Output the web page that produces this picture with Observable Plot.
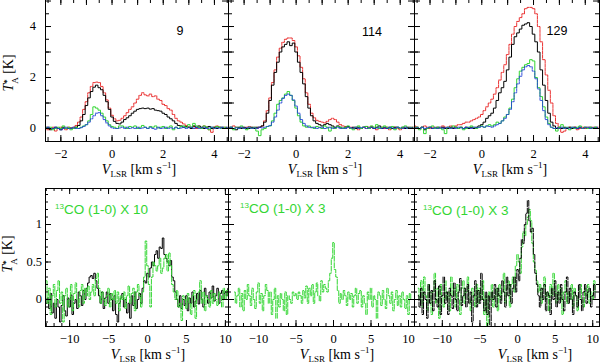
<!DOCTYPE html>
<html><head><meta charset="utf-8">
<script src="https://cdn.jsdelivr.net/npm/d3@7"></script>
<script src="https://cdn.jsdelivr.net/npm/@observablehq/plot@0.6"></script>
<style>
body{margin:0;background:#fff;}
#chart{position:relative;width:600px;height:363px;overflow:hidden;background:#fff;}
#chart svg{position:absolute;overflow:visible;max-width:none;}
.lbl{position:absolute;white-space:nowrap;line-height:1;transform:translate(-50%,-50%);}
.ytk{position:absolute;white-space:nowrap;line-height:1;transform:translate(-100%,-50%);font-family:"Liberation Serif","DejaVu Serif","Times New Roman",serif;font-size:12.5px;color:#000;}
.ser{font-family:"Liberation Serif","DejaVu Serif","Times New Roman",serif;font-size:14px;color:#000;}
.ser sub{font-size:9px;vertical-align:-3px;}
.ser sup{font-size:9px;vertical-align:6px;}
.num{font-family:"Liberation Sans",Arial,sans-serif;font-size:12.5px;color:#000;}
.grn{position:absolute;white-space:nowrap;line-height:1;font-family:"Liberation Sans",Arial,sans-serif;font-size:13.5px;color:#33d633;transform:translateY(-50%);}
.grn sup{font-size:8px;vertical-align:5px;}
</style></head><body><div id="chart"></div>
<script>
// ---------- data ----------
const velTopStart = -2.6, velTopStep = 0.1;   // km/s, top-row channels
const velBotStart = -13.2, velBotStep = 0.2;  // km/s, bottom-row channels
const topXTicks = [-2, 0, 2, 4];
const topYTicks = [0, 2, 4];
const botXTicks = [-10, -5, 0, 5, 10];
const botYTicks = [0, 0.5, 1];
const topPanelNames = ["9", "114", "129"];
const botLineName = "CO (1-0)";
const botIsotope = "13";
const botFactors = ["X 10", "X 3", "X 3"];

const p9Red = [0.05,-0.05,0.0,0.05,-0.1,0.0,0.05,0.0,-0.05,0.05,
 0.0,0.05,0.12,0.25,0.45,0.75,1.05,1.4,1.65,1.8,
 1.82,1.8,1.65,1.4,1.12,0.8,0.52,0.38,0.3,0.32,
 0.4,0.5,0.62,0.75,0.85,1.0,1.15,1.3,1.4,1.32,
 1.28,1.35,1.25,1.28,1.15,1.1,0.95,0.9,0.78,0.72,
 0.55,0.4,0.3,0.25,0.18,0.12,0.06,0.05,0.08,0.0,
 0.05,0.0,0.1,0.05,-0.05,-0.15,0.05,0.1,0.05,0.0,
 0.05,0.0];
const p9Black = [0.0,0.05,-0.05,0.0,0.05,0.0,-0.05,0.05,0.0,0.0,
 0.02,0.0,0.05,0.12,0.3,0.55,0.9,1.2,1.45,1.62,
 1.7,1.6,1.52,1.3,1.05,0.75,0.45,0.28,0.2,0.18,
 0.25,0.35,0.42,0.5,0.6,0.68,0.75,0.78,0.8,0.78,
 0.8,0.76,0.78,0.72,0.7,0.68,0.6,0.55,0.45,0.38,
 0.3,0.2,0.12,0.1,0.05,0.08,0.05,0.0,0.1,0.05,
 0.1,0.05,0.0,0.05,0.08,0.0,0.05,0.0,0.05,0.05,
 0.0,0.05];
const p9Green = [0.05,0.0,0.05,-0.05,0.0,0.05,0.0,0.1,0.0,0.05,
 -0.05,0.0,0.05,0.0,0.05,0.1,0.15,0.3,0.55,0.85,
 0.8,0.72,0.6,0.45,0.3,0.15,0.08,0.05,0.0,0.1,
 0.1,0.05,0.0,0.08,0.05,0.1,0.0,0.05,0.12,0.05,
 0.0,0.08,0.05,0.1,0.02,0.05,0.08,0.0,0.05,0.1,
 -0.05,0.05,0.0,0.08,0.1,0.05,0.15,0.05,0.2,0.1,
 0.05,0.0,0.1,0.05,-0.05,0.05,0.0,0.08,0.05,0.0,
 0.05,0.0];
const p9Blue = [0.0,0.05,0.0,0.0,0.05,0.0,-0.05,0.0,0.05,0.0,
 0.0,0.05,0.0,0.0,0.03,0.08,0.15,0.25,0.38,0.5,
 0.6,0.62,0.5,0.35,0.22,0.1,0.03,0.0,0.0,0.02,
 0.05,0.0,0.05,0.0,0.03,0.0,0.05,0.0,0.02,0.05,
 0.0,0.05,0.0,-0.03,0.05,0.0,0.02,0.05,0.0,0.03,
 0.0,0.05,0.0,0.02,0.05,0.0,0.03,0.05,0.0,0.05,
 0.0,0.03,0.05,0.0,0.02,0.05,0.0,0.03,0.0,0.05,
 0.0,0.03];

const p114Red = [0.05,0.0,0.1,0.05,0.0,0.05,0.0,0.05,0.08,0.0,
 0.05,0.0,0.05,0.1,0.3,0.7,1.2,1.8,2.3,2.8,
 3.15,3.38,3.5,3.55,3.55,3.45,3.2,2.85,2.4,1.95,
 1.4,0.95,0.6,0.42,0.32,0.28,0.25,0.22,0.28,0.35,
 0.4,0.35,0.25,0.15,0.1,0.08,0.05,0.05,0.0,0.05,
 -0.05,0.0,0.05,0.0,0.05,0.08,0.0,-0.05,0.0,0.05,
 0.0,0.05,-0.05,0.0,0.05,0.0,-0.05,0.0,0.05,0.0,
 0.05,0.0];
const p114Black = [0.0,0.05,0.0,-0.05,0.05,0.0,0.05,0.0,0.0,0.05,
 0.0,0.05,0.05,0.1,0.25,0.6,1.1,1.7,2.2,2.6,
 3.0,3.2,3.3,3.4,3.25,3.35,3.0,2.6,2.2,1.75,
 1.25,0.8,0.5,0.3,0.2,0.15,0.1,0.15,0.2,0.15,
 0.1,0.05,0.1,0.05,0.0,0.05,0.08,0.0,0.05,0.0,
 0.05,0.0,0.05,0.08,0.0,0.05,0.0,0.05,0.1,0.0,
 0.05,0.0,0.05,0.0,0.05,0.05,0.0,0.05,0.0,0.05,
 0.0,0.05];
const p114Green = [0.0,0.05,-0.05,0.05,0.0,0.1,0.0,-0.05,0.05,0.0,
 0.05,-0.1,-0.28,-0.05,0.0,0.08,0.1,0.3,0.6,0.95,
 1.1,1.2,1.35,1.45,1.3,1.1,0.8,0.5,0.25,0.1,
 0.05,0.1,0.05,0.0,0.08,0.05,0.0,0.1,0.05,-0.1,
 0.05,0.0,0.08,0.05,0.0,0.05,0.1,0.0,-0.05,0.05,
 0.1,0.0,0.05,0.08,0.0,0.1,0.05,0.15,0.0,0.05,
 0.1,0.05,0.0,0.08,-0.05,0.05,0.0,0.05,0.1,0.0,
 0.05,0.0];
const p114Blue = [0.0,0.05,0.0,0.03,0.0,0.05,0.0,0.03,0.05,0.0,
 0.03,0.0,0.05,0.02,0.05,0.08,0.12,0.25,0.45,0.72,
 1.0,1.18,1.3,1.35,1.3,1.12,0.88,0.6,0.35,0.2,
 0.1,0.05,0.03,0.05,0.0,0.03,0.05,0.0,0.02,0.05,
 0.0,0.03,0.05,0.0,0.02,0.0,0.05,0.03,0.0,0.05,
 0.0,0.03,0.05,0.0,0.03,0.05,0.0,0.02,0.05,0.0,
 0.03,0.0,0.05,0.02,0.0,0.05,0.03,0.0,0.05,0.0,
 0.03,0.0];

const p129Red = [0.1,0.05,0.0,0.05,0.1,0.05,0.0,0.05,0.05,0.0,
 0.05,0.1,0.05,0.05,0.1,0.05,0.1,0.15,0.15,0.2,
 0.25,0.25,0.3,0.35,0.4,0.45,0.55,0.7,0.85,1.0,
 1.15,1.35,1.6,1.9,2.2,2.5,2.9,3.3,3.7,4.0,
 4.2,4.35,4.5,4.7,4.75,4.75,4.7,4.5,4.0,3.4,
 2.7,2.1,1.5,1.0,0.5,0.2,0.0,-0.15,-0.1,0.0,
 0.05,0.0,0.05,-0.05,0.0,0.05,0.0,0.05,0.0,0.05,
 0.0,0.05];
const p129Black = [0.0,0.05,0.0,0.05,-0.05,0.0,0.05,0.0,0.0,0.05,
 0.0,0.05,0.0,0.0,0.05,0.0,0.05,0.0,0.05,0.0,
 0.05,0.0,0.05,0.0,0.05,0.1,0.15,0.25,0.4,0.5,
 0.6,0.8,1.1,1.4,1.6,1.85,2.3,2.8,3.3,3.6,
 3.75,3.9,4.05,4.1,4.15,4.0,3.7,3.4,3.0,2.3,
 1.7,1.1,0.6,0.25,0.1,0.0,0.05,0.0,0.05,0.0,
 0.05,0.0,0.05,0.0,0.05,0.0,0.05,0.0,0.05,0.0,
 0.05,0.0];
const p129Green = [0.0,0.05,-0.05,0.05,-0.2,0.0,0.05,0.1,0.0,0.05,
 0.0,-0.05,-0.2,0.05,0.0,0.1,0.05,0.0,0.05,-0.05,
 0.0,0.05,0.1,0.05,0.0,0.05,0.1,0.05,0.1,0.15,
 0.1,0.15,0.25,0.2,0.3,0.45,0.55,0.8,1.15,1.6,
 1.95,2.25,2.4,2.5,2.55,2.7,2.65,2.0,1.6,1.25,
 0.85,0.45,0.2,0.05,0.0,-0.1,0.05,0.15,0.0,0.05,
 -0.05,0.05,0.0,0.05,0.1,0.0,0.05,0.0,0.05,0.0,
 0.05,0.0];
const p129Blue = [0.0,0.03,0.0,0.05,0.0,0.03,0.05,0.0,0.03,0.0,
 0.05,0.0,0.03,0.05,0.0,0.03,0.0,0.05,0.03,0.0,
 0.05,0.03,0.0,0.05,0.03,0.05,0.08,0.05,0.1,0.08,
 0.05,0.1,0.15,0.2,0.3,0.4,0.55,0.75,1.05,1.4,
 1.75,2.05,2.3,2.42,2.47,2.42,2.25,1.95,1.55,1.1,
 0.7,0.35,0.15,0.05,0.0,0.03,0.0,0.05,0.0,0.03,
 0.0,0.05,0.03,0.0,0.05,0.0,0.03,0.05,0.0,0.03,
 0.0,0.05];

const botLeftBlack = [0.05,-0.05,0.02,-0.12,0.08,-0.18,-0.05,-0.25,0.0,-0.1,
 -0.3,-0.08,0.05,-0.15,-0.22,0.02,-0.1,0.06,-0.2,-0.05,
 0.0,-0.12,0.1,0.05,-0.08,0.12,0.0,0.15,0.22,0.3,
 0.32,0.28,0.35,0.25,0.15,0.05,-0.05,0.1,-0.12,0.02,
 0.1,-0.05,0.08,0.0,-0.15,0.05,-0.2,-0.3,-0.05,0.02,
 0.08,-0.1,0.0,-0.18,-0.05,-0.25,0.05,-0.08,0.1,-0.12,
 0.0,0.08,-0.05,0.15,0.25,0.22,0.35,0.3,0.42,0.5,
 0.45,0.6,0.65,0.55,0.7,0.68,0.82,0.6,0.55,0.5,
 0.45,0.52,0.3,0.25,0.1,0.0,-0.1,0.05,-0.12,0.0,
 -0.08,0.05,-0.15,0.02,-0.05,0.1,-0.1,-0.02,0.08,-0.06,
 0.12,0.0,-0.1,0.15,0.05,-0.05,0.1,0.02,0.18,-0.02,
 0.05,0.15,-0.05,0.08,0.12,0.0,0.1,0.05,0.15];
const botLeftGreen = [0.1,0.25,-0.05,0.15,-0.2,0.05,0.2,-0.1,0.12,0.25,
 -0.05,0.1,-0.3,0.05,0.15,-0.1,0.0,0.2,-0.15,0.08,
 0.22,0.0,-0.1,0.12,0.2,-0.05,0.15,0.05,0.18,0.0,
 0.1,0.2,0.05,0.28,0.35,0.15,-0.05,0.1,0.0,-0.08,
 0.05,0.15,-0.1,0.08,0.0,0.12,-0.05,0.1,-0.15,0.05,
 0.0,0.1,-0.12,0.05,0.18,-0.05,0.08,0.15,-0.15,0.1,
 0.2,0.05,-0.1,0.1,0.3,0.78,0.45,0.2,-0.1,0.3,
 0.5,0.45,0.38,0.45,0.55,0.35,0.42,0.55,0.6,0.38,
 0.62,0.45,0.2,0.1,0.0,0.12,-0.1,-0.05,-0.28,0.05,
 0.0,-0.12,0.08,-0.05,-0.2,0.05,0.12,-0.25,0.0,0.1,
 0.25,-0.05,0.1,-0.15,0.05,0.0,-0.1,0.12,-0.05,0.08,
 0.0,-0.08,0.1,0.05,-0.1,0.15,0.0,0.12,0.05];
const botMidGreen = [0.1,-0.05,0.05,0.15,-0.1,0.08,-0.15,0.12,0.0,0.2,
 0.05,-0.08,0.15,0.0,-0.12,0.1,0.22,-0.05,0.08,-0.15,
 0.05,0.2,0.12,-0.05,0.1,-0.2,0.0,0.15,-0.25,0.05,
 -0.1,0.08,0.0,-0.15,0.1,-0.2,0.05,0.0,-0.05,0.1,
 0.05,0.08,0.0,0.1,0.05,-0.05,0.12,0.02,0.18,-0.05,
 0.15,0.05,0.2,-0.05,0.1,0.22,0.05,-0.02,0.25,0.1,
 0.2,0.15,0.1,0.25,0.35,0.55,0.76,0.4,0.3,0.12,
 -0.05,0.08,0.0,0.12,0.05,-0.08,0.1,0.0,0.08,-0.1,
 0.05,0.15,-0.05,0.08,0.12,-0.1,0.05,-0.05,-0.2,0.1,
 0.0,0.15,-0.1,0.05,0.0,-0.25,0.1,0.05,-0.08,0.12,
 0.0,-0.12,0.15,0.05,-0.05,0.1,-0.15,0.0,0.12,-0.08,
 0.05,-0.1,0.1,0.0,-0.12,0.05,-0.2,0.08,0.0];
const botRightBlack = [0.05,-0.1,0.15,-0.2,0.1,0.0,-0.25,0.2,-0.05,0.12,
 -0.15,0.25,0.0,-0.1,0.18,-0.2,0.05,0.3,-0.05,0.1,
 -0.2,0.15,0.05,-0.12,0.22,0.0,-0.15,0.1,0.28,-0.08,
 0.05,0.15,-0.1,0.2,-0.05,0.1,-0.3,0.05,0.25,-0.1,
 0.12,-0.05,0.35,0.0,-0.15,0.1,-0.2,0.05,-0.36,0.1,
 0.0,0.2,-0.1,0.15,0.05,-0.05,0.25,0.1,-0.1,0.3,
 0.05,0.2,-0.05,0.15,0.3,0.1,0.4,0.25,0.55,0.8,
 0.75,1.0,1.15,1.32,1.05,0.9,0.95,0.6,0.35,0.2,
 0.05,-0.1,0.15,0.0,0.2,-0.15,0.1,0.05,-0.2,0.15,
 0.0,0.25,-0.1,0.1,-0.05,0.2,0.0,-0.15,0.1,0.3,
 -0.05,0.15,0.0,-0.2,0.1,0.05,-0.1,0.2,0.0,-0.15,
 0.1,0.2,-0.05,0.1,0.15,-0.1,0.05,0.2,0.0];
const botRightGreen = [0.15,0.0,0.25,-0.1,0.3,0.05,-0.15,0.2,0.1,-0.2,
 0.1,0.35,-0.05,0.15,-0.25,0.2,0.05,-0.1,0.25,0.0,
 0.1,-0.15,0.3,0.05,0.15,-0.1,0.2,0.0,-0.2,0.15,
 0.25,-0.05,0.1,0.3,0.0,-0.15,0.15,0.05,-0.1,0.2,
 -0.05,0.15,0.0,0.25,-0.2,0.05,-0.35,0.1,0.0,0.2,
 -0.1,0.05,0.15,-0.15,0.2,0.0,0.1,0.35,-0.05,0.15,
 0.25,-0.1,0.2,0.3,0.1,0.45,0.6,0.5,0.35,0.7,
 0.9,0.85,1.0,1.1,1.2,1.05,0.75,0.5,0.39,0.25,
 0.1,0.2,-0.05,0.15,0.3,0.0,0.1,-0.15,0.2,0.05,
 0.35,0.1,-0.05,0.2,0.0,0.15,-0.2,0.1,0.25,-0.05,
 0.1,0.0,0.2,-0.1,0.15,0.05,-0.15,0.1,0.2,0.0,
 -0.1,0.15,0.05,0.2,-0.05,0.1,0.0,0.25,0.1];

// ---------- drawing ----------
const RED = "#e81c1c", BLACK = "#000", GREEN = "#33d633", BLUE = "#1f3fd6";
const SERIF = "'Liberation Serif', 'DejaVu Serif', 'Times New Roman', serif";
const root = document.getElementById("chart");
const fmt = d => (d < 0 ? "\u2212" + Math.abs(d) : String(d));
const rows = (vals, start, step) => vals.map((T, i) => ({v: +(start + i * step).toFixed(3), T}));
const range = (a, b, s) => d3.range(Math.round(a / s), Math.round(b / s) + 1).map(k => +(k * s).toFixed(3));

function panel(o) {
  const marks = [];
  for (const s of o.series) {
    marks.push(Plot.line(rows(s.values, o.start, o.step), {
      x: "v", y: "T", curve: "step", stroke: s.color, strokeWidth: s.width || 1,
      strokeDasharray: s.dash, clip: true
    }));
  }
  const xt = (arr, len) => [
    Plot.tickX(arr, {x: d => d, insetBottom: o.fh - len, stroke: "black"}),
    Plot.tickX(arr, {x: d => d, insetTop: o.fh - len, stroke: "black"})
  ];
  const yt = (arr, len) => [
    Plot.tickY(arr, {y: d => d, insetRight: o.fw - len, stroke: "black"}),
    Plot.tickY(arr, {y: d => d, insetLeft: o.fw - len, stroke: "black"})
  ];
  marks.push(...xt(o.xMinor, o.minLen), ...xt(o.xMajor, o.majLen));
  marks.push(...yt(o.yMinor, o.minLen), ...yt(o.yMajor, o.majLen));
  marks.push(Plot.frame({stroke: "black", strokeWidth: 1}));
  marks.push(Plot.text(o.xLab, {x: d => d, text: fmt, frameAnchor: "bottom", lineAnchor: "top", dy: 8,
    fontFamily: SERIF, fontSize: 12.5, fill: "black"}));
  const chart = Plot.plot({
    width: o.ml + o.fw, height: o.fh + o.mb,
    marginLeft: o.ml, marginRight: 0, marginTop: 0, marginBottom: o.mb,
    x: {domain: o.xDom, axis: null}, y: {domain: o.yDom, axis: null},
    style: "background: transparent; overflow: visible; font-family: 'Liberation Serif', 'DejaVu Serif', serif; font-size: 12.5px; color: black;",
    marks
  });
  chart.style.left = (o.left - o.ml) + "px";
  chart.style.top = o.top + "px";
  root.append(chart);
  // y tick labels placed through the chart's own y scale
  if (o.yLab) {
    const ys = chart.scale("y");
    for (const t of o.yLab) {
      const d = document.createElement("div");
      d.className = "ytk";
      d.textContent = fmt(t);
      d.style.left = (o.left - o.yPad) + "px";
      d.style.top = (o.top + ys.apply(t)) + "px";
      root.append(d);
    }
  }
}

const cols = [[45, 183], [228, 186], [414, 185]];
const topSeries = [
  [p9Red, p9Black, p9Green, p9Blue],
  [p114Red, p114Black, p114Green, p114Blue],
  [p129Red, p129Black, p129Green, p129Blue]
];
cols.forEach(([left, fw], i) => {
  const [r, k, g, b] = topSeries[i];
  panel({
    left, top: -1, fw, fh: 142, ml: i === 0 ? 45 : 0, mb: 30,
    xDom: [-2.6, 4.55], yDom: [-0.51, 5.06],
    start: velTopStart, step: velTopStep,
    series: [
      {values: r, color: RED, width: 0.9, dash: "3,1"},
      {values: k, color: BLACK, width: 1},
      {values: g, color: GREEN, width: 1},
      {values: b, color: BLUE, width: 0.9, dash: "2,1"}
    ],
    xLab: topXTicks, yLab: i === 0 ? topYTicks : null, yPad: 9,
    xMinor: range(-2.5, 4.5, 0.5), xMajor: range(-2, 4, 1),
    yMinor: range(0.5, 4.5, 0.5), yMajor: range(0, 5, 1),
    minLen: 4, majLen: 6
  });
});

const botDomains = [[-13.1, 10.4], [-14, 10.8], [-13.7, 10.9]];
const botSeries = [
  [{values: botLeftBlack, color: BLACK}, {values: botLeftGreen, color: GREEN, dash: "5,1.5"}],
  [{values: botMidGreen, color: GREEN, dash: "5,1.5"}],
  [{values: botRightGreen, color: GREEN, dash: "5,1.5"}, {values: botRightBlack, color: BLACK, dash: "6,1.5"}]
];
cols.forEach(([left, fw], i) => {
  panel({
    left, top: 188, fw, fh: 138, ml: i === 0 ? 45 : 0, mb: 30,
    xDom: botDomains[i], yDom: [-0.36, 1.48],
    start: velBotStart, step: velBotStep,
    series: botSeries[i],
    xLab: botXTicks, yLab: i === 0 ? botYTicks : null, yPad: 3,
    xMinor: range(-13, 10, 1), xMajor: range(-10, 10, 5),
    yMinor: range(-0.3, 1.4, 0.1), yMajor: range(0, 1, 0.5),
    minLen: 3, majLen: 6
  });
});

// ---------- text overlays ----------
function addLabel(html, cls, x, y, rotate) {
  const d = document.createElement("div");
  d.className = "lbl " + cls;
  d.innerHTML = html;
  d.style.left = x + "px";
  d.style.top = y + "px";
  if (rotate) d.style.transform = "translate(-50%,-50%) rotate(-90deg)";
  root.append(d);
}
const vTitle = '<i>V</i><sub>LSR</sub> [km s<sup>\u22121</sup>]';
const tTitle = '<i>T</i><span style="display:inline-block;vertical-align:-5px;font-size:9px;line-height:0.85;text-align:left"><b>*</b><br>A</span> [K]';
[139, 325, 510].forEach(x => addLabel(vTitle, "ser", x, 170));
[148, 337, 535].forEach(x => addLabel(vTitle, "ser", x, 355));
addLabel(tTitle, "ser", 11, 73, true);
addLabel(tTitle, "ser", 10, 254, true);
[[180, 31], [372, 32], [557, 31]].forEach(([x, y], i) => addLabel(topPanelNames[i], "num", x, y));
[[55, 210], [240, 209], [423, 211]].forEach(([x, y], i) => {
  const d = document.createElement("div");
  d.className = "grn";
  d.innerHTML = `<sup>${botIsotope}</sup>${botLineName} ${botFactors[i]}`;
  d.style.left = x + "px";
  d.style.top = y + "px";
  root.append(d);
});
</script></body></html>
